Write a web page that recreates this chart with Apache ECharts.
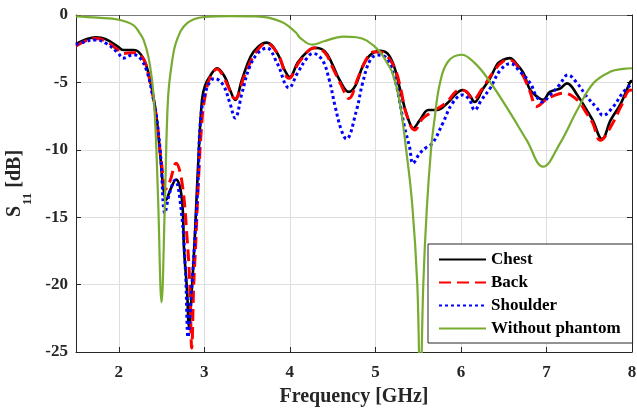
<!DOCTYPE html>
<html>
<head>
<meta charset="utf-8">
<script src="https://cdn.jsdelivr.net/npm/echarts@6/dist/echarts.min.js"></script>
<style>
  html, body { margin: 0; padding: 0; background: #ffffff; }
  #chart { width: 637px; height: 408px; }
</style>
</head>
<body>
<div id="chart"></div>
<script>
// Tick positions
const freqTicks = [2, 3, 4, 5, 6, 7, 8];
const s11Ticks = [0, -5, -10, -15, -20, -25];

// Chest
const chestFreq = [1.5, 1.62, 1.73, 1.85, 1.99, 2.05, 2.17, 2.225, 2.295, 2.353, 2.40, 2.44, 2.48, 2.52, 2.555, 2.6, 2.669, 2.739, 2.763, 2.798, 2.821, 2.856, 2.891, 2.926, 2.973, 3.01, 3.07, 3.15, 3.24, 3.3, 3.36, 3.44, 3.54, 3.63, 3.73, 3.85, 3.94, 4.0, 4.09, 4.2, 4.29, 4.41, 4.5, 4.58, 4.69, 4.77, 4.85, 4.94, 5.05, 5.14, 5.22, 5.28, 5.35, 5.4, 5.44, 5.52, 5.62, 5.72, 5.84, 5.95, 6.02, 6.1, 6.16, 6.25, 6.34, 6.43, 6.49, 6.57, 6.66, 6.73, 6.81, 6.89, 6.96, 7.04, 7.16, 7.24, 7.36, 7.47, 7.54, 7.65, 7.75, 7.87, 7.98, 8.0];
const chestS11 = [-2.15, -1.8, -1.65, -1.8, -2.35, -2.6, -2.6, -2.7, -3.3, -4.45, -5.9, -7.5, -10, -12.8, -13.7, -13.0, -12.2, -13.7, -17.4, -20.4, -23.1, -20.2, -16.2, -11.3, -6.3, -5.2, -4.5, -3.95, -4.6, -5.55, -6.3, -4.8, -3.1, -2.35, -2.05, -2.8, -4.1, -4.6, -3.55, -2.75, -2.43, -2.7, -3.7, -4.8, -5.7, -5.2, -3.83, -2.97, -2.65, -2.85, -3.83, -5.3, -7.05, -8.0, -8.4, -7.8, -7.05, -7.05, -6.55, -5.8, -5.56, -5.93, -6.45, -5.56, -4.7, -3.6, -3.34, -3.2, -3.7, -4.3, -5.56, -6.05, -6.3, -5.7, -5.45, -5.07, -5.93, -7.05, -7.8, -9.2, -7.8, -6.55, -4.95, -4.9];

// Back
const backFreq = [1.5, 1.62, 1.73, 1.85, 1.99, 2.05, 2.17, 2.225, 2.3, 2.35, 2.4, 2.45, 2.5, 2.55, 2.6, 2.669, 2.739, 2.8, 2.83, 2.853, 2.875, 2.9, 2.93, 2.973, 3.01, 3.07, 3.15, 3.24, 3.36, 3.47, 3.6, 3.73, 3.86, 3.99, 4.12, 4.29, 4.41, 4.5, 4.6, 4.69, 4.8, 4.9, 4.97, 5.05, 5.13, 5.23, 5.3, 5.36, 5.46, 5.55, 5.66, 5.82, 5.99, 6.07, 6.14, 6.24, 6.37, 6.49, 6.57, 6.69, 6.8, 6.86, 6.88, 6.99, 7.11, 7.2, 7.36, 7.47, 7.54, 7.63, 7.75, 7.87, 7.98, 8.0];
const backS11 = [-2.3, -1.9, -1.75, -1.95, -2.6, -2.85, -2.8, -2.85, -3.4, -4.5, -6.0, -8.2, -11.0, -12.9, -12.3, -11.0, -12.4, -16.7, -19.9, -24.7, -20.2, -16.9, -12.5, -7.8, -6.0, -4.6, -4.0, -4.8, -6.2, -4.5, -2.8, -2.1, -2.9, -4.7, -3.4, -2.45, -2.8, -3.9, -5.2, -6.2, -4.6, -3.2, -2.75, -2.74, -3.0, -4.0, -5.6, -7.3, -8.53, -7.7, -7.2, -6.55, -5.56, -5.7, -6.3, -5.56, -4.3, -3.45, -3.34, -4.1, -5.56, -6.7, -6.8, -6.3, -5.93, -5.8, -6.3, -7.3, -8.0, -9.3, -8.3, -6.8, -5.56, -5.6];

// Shoulder
const shoulderFreq = [1.5, 1.62, 1.73, 1.85, 1.99, 2.05, 2.17, 2.25, 2.33, 2.39, 2.44, 2.49, 2.54, 2.59, 2.657, 2.73, 2.78, 2.81, 2.85, 2.89, 2.93, 2.95, 3.01, 3.12, 3.22, 3.3, 3.36, 3.44, 3.53, 3.63, 3.73, 3.85, 3.99, 4.09, 4.2, 4.27, 4.38, 4.46, 4.53, 4.6, 4.66, 4.78, 4.85, 4.94, 5.03, 5.13, 5.22, 5.28, 5.34, 5.4, 5.44, 5.52, 5.6, 5.67, 5.79, 5.9, 6.02, 6.1, 6.16, 6.24, 6.34, 6.46, 6.58, 6.69, 6.81, 6.88, 6.95, 7.04, 7.15, 7.25, 7.36, 7.47, 7.59, 7.66, 7.78, 7.9, 8.0];
const shoulderS11 = [-2.2, -1.95, -1.85, -2.1, -2.8, -3.2, -2.95, -3.2, -4.2, -5.8, -7.5, -10.5, -14.7, -13.3, -12.25, -14.5, -19, -23.9, -20.5, -16.5, -12, -8.3, -5.8, -4.7, -5.2, -6.55, -7.65, -5.8, -3.85, -2.8, -2.45, -3.55, -5.4, -4.3, -3.2, -2.85, -3.35, -4.8, -6.8, -8.5, -9.2, -7.05, -5.07, -3.34, -2.97, -3.2, -4.6, -6.3, -8.3, -9.8, -11.0, -10.25, -9.8, -9.5, -8.0, -6.55, -5.93, -6.3, -7.05, -6.3, -5.45, -4.1, -3.6, -4.2, -5.05, -6.0, -6.45, -5.95, -5.2, -4.45, -5.07, -6.05, -6.9, -7.45, -6.8, -5.7, -5.1];

// Without phantom
const freeFreq = [1.5, 1.75, 2.0, 2.17, 2.24, 2.29, 2.35, 2.40, 2.43, 2.46, 2.50, 2.54, 2.575, 2.62, 2.68, 2.8, 3.0, 3.3, 3.6, 3.75, 3.9, 3.98, 4.07, 4.13, 4.26, 4.4, 4.62, 4.78, 4.9, 5.05, 5.14, 5.2, 5.28, 5.36, 5.43, 5.49, 5.525, 5.56, 5.6, 5.65, 5.69, 5.755, 5.85, 6.01, 6.15, 6.3, 6.53, 6.77, 6.96, 7.16, 7.36, 7.55, 7.75, 7.9, 8.0];
const freeS11 = [-0.1, -0.2, -0.35, -0.75, -1.3, -1.85, -3.2, -5.5, -8.5, -13.7, -21.3, -13.7, -6.3, -3.6, -1.85, -0.6, -0.15, -0.08, -0.1, -0.2, -0.5, -0.8, -1.3, -1.75, -2.2, -1.95, -1.6, -1.65, -1.9, -2.7, -3.6, -4.3, -6.3, -10, -14, -20, -28, -20, -14.5, -10, -7.8, -5.05, -3.45, -2.95, -3.5, -4.6, -6.8, -9.3, -11.25, -9.5, -7.05, -5.05, -4.2, -4.0, -3.95];

const seriesNames = ['Chest', 'Back', 'Shoulder', 'Without phantom'];

function pairs(f, v) { return f.map((x, i) => [x, v[i]]); }

const FONT = '"Liberation Serif", "Times New Roman", serif';
const AXIS_COLOR = '#262626';

const chart = echarts.init(document.getElementById('chart'), null, { renderer: 'canvas' });

const baseLine = { type: 'line', showSymbol: false, symbol: 'none', smooth: 0.4, clip: true, animation: false };

chart.setOption({
  animation: false,
  backgroundColor: '#ffffff',
  grid: { left: 76, right: 5, top: 15, bottom: 56, containLabel: false, outerBoundsMode: 'none' },
  xAxis: [{
    type: 'value', min: 1.5, max: 8, position: 'bottom',
    name: 'Frequency [GHz]', nameLocation: 'middle', nameGap: 35,
    nameTextStyle: { fontFamily: FONT, fontWeight: 'bold', fontSize: 20, color: AXIS_COLOR },
    axisLine: { show: true, onZero: false, lineStyle: { color: AXIS_COLOR, width: 1 } },
    axisTick: { show: true, inside: true, length: 5, customValues: freqTicks, lineStyle: { color: AXIS_COLOR } },
    axisLabel: { show: true, customValues: freqTicks, margin: 12, fontFamily: FONT, fontWeight: 'bold', fontSize: 17, color: AXIS_COLOR },
    splitLine: { show: true, lineStyle: { color: '#dedede', width: 1 } }
  }, {
    type: 'value', min: 1.5, max: 8, position: 'top',
    axisLine: { show: true, onZero: false, lineStyle: { color: '#7a7a7a', width: 1 } },
    axisTick: { show: true, inside: true, length: 5, customValues: freqTicks, lineStyle: { color: AXIS_COLOR } },
    axisLabel: { show: false },
    splitLine: { show: false }
  }],
  yAxis: [{
    type: 'value', min: -25, max: 0, interval: 5, position: 'left',
    name: '{s|S}{b|11}{s| [dB]}', nameLocation: 'middle', nameRotate: 90, nameGap: 36,
    nameTextStyle: {
      fontFamily: FONT, fontWeight: 'bold', fontSize: 20, color: AXIS_COLOR,
      rich: {
        s: { fontFamily: FONT, fontWeight: 'bold', fontSize: 20, color: AXIS_COLOR, verticalAlign: 'top', lineHeight: 20 },
        b: { fontFamily: FONT, fontWeight: 'bold', fontSize: 13, color: AXIS_COLOR, verticalAlign: 'bottom', padding: [17, 0, 0, 1] }
      }
    },
    axisLine: { show: true, onZero: false, lineStyle: { color: AXIS_COLOR, width: 1 } },
    axisTick: { show: true, inside: true, length: 5, lineStyle: { color: AXIS_COLOR } },
    axisLabel: { show: true, margin: 8, fontFamily: FONT, fontWeight: 'bold', fontSize: 17, color: AXIS_COLOR },
    splitLine: { show: true, lineStyle: { color: '#dedede', width: 1 } }
  }, {
    type: 'value', min: -25, max: 0, interval: 5, position: 'right',
    axisLine: { show: true, onZero: false, lineStyle: { color: AXIS_COLOR, width: 1 } },
    axisTick: { show: true, inside: true, length: 5, lineStyle: { color: AXIS_COLOR } },
    axisLabel: { show: false },
    splitLine: { show: false }
  }],
  legend: {
    orient: 'vertical', left: 428, top: 244,
    padding: [7, 12, 6, 10], itemGap: 6, itemWidth: 47, itemHeight: 14,
    backgroundColor: '#ffffff', borderColor: AXIS_COLOR, borderWidth: 1, borderRadius: 0,
    itemStyle: { opacity: 0 },
    textStyle: { fontFamily: FONT, fontWeight: 'bold', fontSize: 17, color: '#000000' },
    data: seriesNames
  },
  series: [
    Object.assign({}, baseLine, {
      name: seriesNames[0], data: pairs(chestFreq, chestS11), z: 2,
      lineStyle: { color: '#000000', width: 2.6, type: 'solid' }, itemStyle: { color: '#000000' }
    }),
    Object.assign({}, baseLine, {
      name: seriesNames[1], data: pairs(backFreq, backS11), z: 3,
      lineStyle: { color: '#ff0000', width: 3, type: [12, 6] }, itemStyle: { color: '#ff0000' }
    }),
    Object.assign({}, baseLine, {
      name: seriesNames[2], data: pairs(shoulderFreq, shoulderS11), z: 4,
      lineStyle: { color: '#0000ff', width: 3, type: [3, 3] }, itemStyle: { color: '#0000ff' }
    }),
    Object.assign({}, baseLine, {
      name: seriesNames[3], data: pairs(freeFreq, freeS11), z: 5,
      lineStyle: { color: '#77ac30', width: 2.2, type: 'solid' }, itemStyle: { color: '#77ac30' }
    })
  ]
});
</script>
</body>
</html>
